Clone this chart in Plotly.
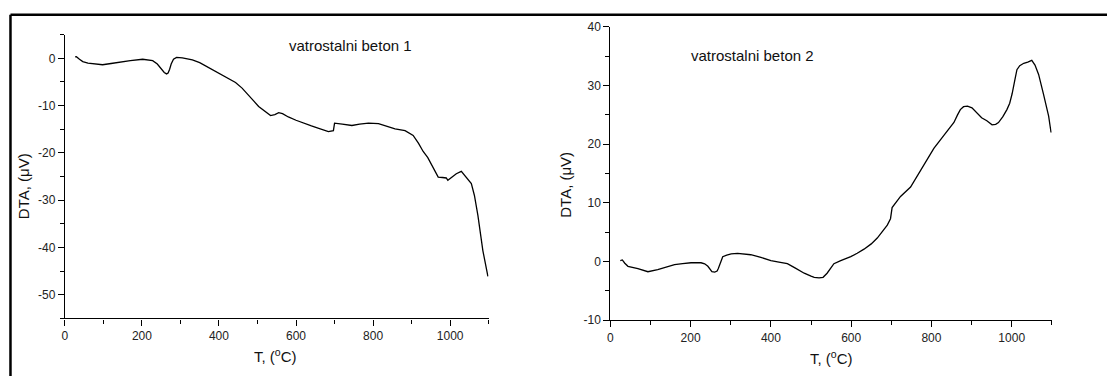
import plotly.graph_objects as go

W, H = 1107, 383

# --- data ---
t1 = [26.7, 30, 38, 46.5, 60, 80, 98, 120, 141, 170, 202, 220, 228, 240, 250, 258, 264, 268, 272,
      276, 282, 290, 305, 331, 350, 374, 400, 420, 443, 460, 478, 490, 503, 520, 534, 545, 555, 565,
      580, 600, 615, 640, 659, 675, 684, 697, 700, 720, 745, 765, 788, 814, 835, 857, 883, 904, 918,
      930, 942, 952, 969, 980, 990, 994, 1005, 1016, 1029, 1042, 1055, 1063, 1072, 1085, 1098]
dta1 = [0.3, 0.35, -0.2, -0.7, -1.0, -1.2, -1.36, -1.1, -0.8, -0.5, -0.2, -0.3, -0.5, -1.2, -2.2,
        -3.0, -3.3, -3.1, -2.3, -1.2, -0.2, 0.2, 0.1, -0.34, -0.9, -2.0, -3.3, -4.2, -5.1, -6.3,
        -7.8, -9.0, -10.2, -11.3, -12.1, -11.9, -11.5, -11.7, -12.4, -13.1, -13.6, -14.3, -14.8,
        -15.2, -15.5, -15.3, -13.7, -13.9, -14.2, -13.9, -13.7, -13.8, -14.3, -14.9, -15.3, -16.3,
        -18.0, -19.7, -21.0, -22.4, -25.1, -25.2, -25.3, -25.8, -25.0, -24.4, -23.9, -25.1, -26.5,
        -29.0, -33.2, -40.7, -46.1]

t2 = [24.8, 29.8, 36, 43.9, 68.7, 93.6, 118, 140, 160, 180, 201, 226, 235, 243, 248, 253, 260, 266,
      269, 272, 276, 280, 290, 301, 317, 350, 375, 400, 420, 441, 460, 483, 500, 508, 520, 530, 540,
      550, 557, 574, 599, 615, 632, 650, 665, 690, 698, 702, 723, 748, 765, 785, 806, 831, 856, 865,
      872, 880, 890, 901, 914, 925, 938, 951, 960, 967, 978, 988, 995, 1001, 1008, 1013, 1020, 1030,
      1040, 1050, 1058, 1067, 1079, 1092, 1098]
dta2 = [0.16, 0.27, -0.3, -0.82, -1.2, -1.75, -1.37, -0.9, -0.55, -0.35, -0.22, -0.22, -0.4, -0.82,
        -1.3, -1.75, -1.8, -1.64, -1.2, -0.66, 0.0, 0.82, 1.1, 1.31, 1.37, 1.15, 0.7, 0.16, -0.1,
        -0.38, -1.1, -2.0, -2.5, -2.7, -2.8, -2.7, -2.0, -1.0, -0.38, 0.16, 0.82, 1.4, 2.1, 3.0, 4.0,
        6.2, 7.3, 9.2, 11.1, 12.7, 14.7, 17.0, 19.3, 21.5, 23.7, 25.0, 25.9, 26.4, 26.5, 26.2, 25.3,
        24.5, 24.0, 23.3, 23.4, 23.7, 24.7, 25.9, 27.0, 28.6, 31.0, 32.7, 33.4, 33.8, 34.0, 34.3,
        33.5, 31.9, 28.6, 24.8, 22.0]

titles = ["vatrostalni beton 1", "vatrostalni beton 2"]
xlabel = "T, (<sup>o</sup>C)"
ylabel = "DTA, (\u03bcV)"
xticks = [0, 200, 400, 600, 800, 1000]
yticks1 = [0, -10, -20, -30, -40, -50]
yticks2 = [-10, 0, 10, 20, 30, 40]

FONT = "Liberation Sans, Arial, sans-serif"

fig = go.Figure()
fig.add_trace(go.Scatter(x=t1, y=dta1, mode="lines", line=dict(color="black", width=1.3),
                         xaxis="x", yaxis="y", showlegend=False))
fig.add_trace(go.Scatter(x=t2, y=dta2, mode="lines", line=dict(color="black", width=1.3),
                         xaxis="x2", yaxis="y2", showlegend=False))

def lab(v):
    return str(v)  # plain hyphen for negatives, as in the reference

def xa(domain, anchor):
    return dict(domain=domain, anchor=anchor, range=[0, 1100], showgrid=False, zeroline=False,
                showline=True, linecolor="black", linewidth=1.2, ticks="outside", ticklen=6,
                tickwidth=1, tickcolor="black", tickmode="array", tickvals=xticks,
                ticktext=[lab(v) for v in xticks],
                tickfont=dict(family=FONT, size=12, color="#222"),
                minor=dict(ticks="outside", ticklen=4, dtick=100, tick0=0, tickcolor="black",
                           showgrid=False),
                fixedrange=True)

def ya(domain, anchor, rng, vals):
    return dict(domain=domain, anchor=anchor, range=rng, showgrid=False, zeroline=False,
                showline=True, linecolor="black", linewidth=1.2, ticks="outside", ticklen=6,
                tickwidth=1, tickcolor="black", tickmode="array", tickvals=vals,
                ticktext=[lab(v) for v in vals],
                tickfont=dict(family=FONT, size=12, color="#222"),
                minor=dict(ticks="outside", ticklen=4, dtick=5, tick0=0, tickcolor="black",
                           showgrid=False),
                fixedrange=True)

fig.update_layout(
    width=W, height=H, autosize=False,
    margin=dict(l=0, r=0, t=0, b=0, pad=0),
    paper_bgcolor="white", plot_bgcolor="white",
    xaxis=xa([62 / W, 487 / W], "y"),
    yaxis=ya([1 - 323.3 / H, 1 - 28.7 / H], "x", [-55, 5], yticks1),
    xaxis2=xa([609 / W, 1051.7 / W], "y2"),
    yaxis2=ya([1 - 325 / H, 1 - 20.7 / H], "x2", [-10, 40], yticks2),
    font=dict(family=FONT, color="black"),
)

ann = []
ann.append(dict(text=titles[0], x=348 / W, y=1 - 40 / H, xref="paper", yref="paper",
                showarrow=False, font=dict(family=FONT, size=15, color="#111"),
                xanchor="center", yanchor="middle"))
ann.append(dict(text=titles[1], x=752 / W, y=1 - 50 / H, xref="paper", yref="paper",
                showarrow=False, font=dict(family=FONT, size=15, color="#111"),
                xanchor="center", yanchor="middle"))
for xc, yc in [(273, 362), (831, 364)]:
    ann.append(dict(text=xlabel, x=xc / W, y=1 - yc / H, xref="paper", yref="paper",
                    showarrow=False, font=dict(family=FONT, size=15, color="#111"),
                    xanchor="center", yanchor="middle"))
for xc, yc in [(20, 186), (564, 184)]:
    ann.append(dict(text=ylabel, x=xc / W, y=1 - yc / H, xref="paper", yref="paper",
                    textangle=-90, showarrow=False, font=dict(family=FONT, size=15, color="#111"),
                    xanchor="center", yanchor="middle"))
fig.update_layout(annotations=ann)

# outer frame (top and left edges)
fig.add_shape(type="line", xref="paper", yref="paper", x0=7.5 / W, x1=1, y0=1 - 8 / H,
              y1=1 - 8 / H, line=dict(color="black", width=2.5))
fig.add_shape(type="line", xref="paper", yref="paper", x0=7.5 / W, x1=7.5 / W, y0=0,
              y1=1 - 8 / H, line=dict(color="black", width=2.5))

fig.write_html("out.html", config=dict(displayModeBar=False))
